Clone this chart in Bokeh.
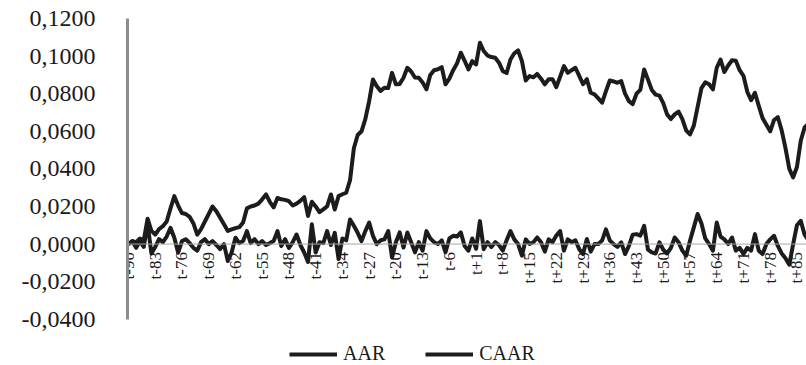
import math
from bokeh.plotting import figure
from bokeh.models import Range1d, FixedTicker, Span, Legend, LegendItem
from bokeh.core.properties import value
from bokeh.embed import file_html
from bokeh.resources import INLINE

# categories t-90 ... t0 ... t+90
categories = [f"t{d}" if d < 0 else ("t0" if d == 0 else f"t+{d}") for d in range(-90, 91)]

aar = [
    0.0000, 0.0016, -0.0020, 0.0016, -0.0015, 0.0110, -0.0050, -0.0015, 0.0026, 0.0010,
    0.0040, 0.0087, 0.0034, -0.0046, 0.0016, 0.0026, 0.0005, -0.0020, -0.0035, 0.0010,
    0.0026, 0.0000, 0.0016, -0.0005, -0.0027, 0.0000, -0.0090, -0.0045, 0.0034, 0.0005,
    0.0016, 0.0069, 0.0005, 0.0026, 0.0000, 0.0016, -0.0005, 0.0005, 0.0016, 0.0069,
    -0.0010, 0.0026, -0.0020, 0.0010, 0.0051, -0.0005, -0.0045, -0.0095, 0.0105, -0.0045,
    0.0010, 0.0005, 0.0069, -0.0005, 0.0060, -0.0080, 0.0030, 0.0020, 0.0131, 0.0097,
    0.0060, 0.0016, 0.0069, 0.0114, 0.0044, 0.0000, 0.0020, 0.0025, 0.0069, -0.0071,
    0.0010, 0.0062, -0.0018, 0.0062, 0.0010, -0.0044, 0.0010, -0.0035, 0.0069, 0.0030,
    0.0010, 0.0000, 0.0020, -0.0044, 0.0030, 0.0044, 0.0040, 0.0062, -0.0010, -0.0035,
    0.0030, -0.0025, 0.0122, -0.0027, 0.0010, -0.0015, 0.0010, -0.0005, -0.0035, 0.0020,
    0.0069, 0.0025, 0.0000, -0.0062, 0.0025, 0.0000, 0.0010, 0.0035, 0.0010, -0.0040,
    0.0025, 0.0010, 0.0045, 0.0069, -0.0035, 0.0025, 0.0010, 0.0020, -0.0027, -0.0053,
    0.0027, -0.0040, 0.0000, 0.0000, 0.0020, 0.0078, 0.0020, 0.0000, -0.0015, 0.0009,
    -0.0053, -0.0010, 0.0050, 0.0053, 0.0045, 0.0097, -0.0030, -0.0044, -0.0050, 0.0009,
    -0.0030, -0.0050, -0.0020, 0.0035, 0.0010, -0.0035, -0.0062, 0.0018, 0.0089, 0.0160,
    0.0110, 0.0030, 0.0000, -0.0035, 0.0115, 0.0040, 0.0025, 0.0000, 0.0035, -0.0035,
    -0.0020, -0.0053, -0.0020, -0.0035, 0.0053, -0.0035, -0.0053, 0.0000, 0.0025, 0.0044,
    -0.0010, -0.0050, -0.0075, -0.0110, 0.0000, 0.0100, 0.0124, 0.0050, 0.0020, -0.0010,
    0.0030,
]

caar = [
    0.0000, 0.0015, 0.0010, 0.0030, 0.0020, 0.0135, 0.0070, 0.0050, 0.0080, 0.0095,
    0.0120, 0.0190, 0.0255, 0.0205, 0.0165, 0.0160, 0.0145, 0.0110, 0.0050, 0.0080,
    0.0120, 0.0160, 0.0200, 0.0175, 0.0140, 0.0105, 0.0070, 0.0078, 0.0085, 0.0090,
    0.0115, 0.0190, 0.0200, 0.0205, 0.0215, 0.0238, 0.0264, 0.0225, 0.0195, 0.0245,
    0.0238, 0.0235, 0.0228, 0.0205, 0.0215, 0.0230, 0.0250, 0.0150, 0.0225, 0.0200,
    0.0170, 0.0185, 0.0200, 0.0264, 0.0184, 0.0255, 0.0265, 0.0273, 0.0340, 0.0510,
    0.0580, 0.0600, 0.0665, 0.0760, 0.0876, 0.0840, 0.0815, 0.0832, 0.0830, 0.0911,
    0.0850, 0.0852, 0.0885, 0.0938, 0.0918, 0.0886, 0.0885, 0.0860, 0.0823, 0.0900,
    0.0925, 0.0930, 0.0941, 0.0850, 0.0880, 0.0925, 0.0960, 0.1018, 0.0975, 0.0929,
    0.0973, 0.0956, 0.1071, 0.1027, 0.1003, 0.0995, 0.0991, 0.0965, 0.0920, 0.0910,
    0.0982, 0.1015, 0.1030, 0.0973, 0.0870, 0.0894, 0.0887, 0.0905, 0.0880, 0.0850,
    0.0877, 0.0877, 0.0835, 0.0890, 0.0947, 0.0911, 0.0925, 0.0938, 0.0895, 0.0850,
    0.0877, 0.0805, 0.0796, 0.0775, 0.0752, 0.0814, 0.0870, 0.0865, 0.0858, 0.0867,
    0.0800, 0.0760, 0.0745, 0.0800, 0.0820, 0.0929, 0.0875, 0.0820, 0.0795, 0.0790,
    0.0750, 0.0690, 0.0665, 0.0690, 0.0705, 0.0665, 0.0605, 0.0583, 0.0630, 0.0730,
    0.0830, 0.0860, 0.0850, 0.0823, 0.0938, 0.0982, 0.0915, 0.0950, 0.0978, 0.0975,
    0.0925, 0.0895, 0.0810, 0.0765, 0.0805, 0.0735, 0.0670, 0.0635, 0.0600, 0.0660,
    0.0675, 0.0605, 0.0510, 0.0400, 0.0355, 0.0410, 0.0550, 0.0620, 0.0640, 0.0600,
    0.0580,
]

y_ticks = [-0.04, -0.02, 0.0, 0.02, 0.04, 0.06, 0.08, 0.10, 0.12]
y_tick_labels = ["-0,0400", "-0,0200", "0,0000", "0,0200", "0,0400",
                 "0,0600", "0,0800", "0,1000", "0,1200"]

x_tick_step = 7
x_tick_idx = list(range(0, len(categories), x_tick_step))
x_tick_labels = [categories[i] for i in x_tick_idx]

idx = list(range(len(categories)))

FONT = "Liberation Serif"
INK = "#1c1c1c"

# frame runs to the bottom edge so the legend can sit inside it; the y axis
# line is limited to the tick range with bounds
p = figure(width=806, height=365, output_backend="svg", toolbar_location=None,
           x_range=Range1d(-0.26, 177.5), y_range=Range1d(-0.0646, 0.12),
           x_axis_location=None, min_border_left=127, min_border_right=0,
           min_border_top=18, min_border_bottom=0)
p.outline_line_color = None
p.xgrid.visible = False
p.ygrid.visible = False

ya = p.yaxis[0]
ya.ticker = FixedTicker(ticks=y_ticks)
ya.bounds = (y_ticks[0], y_ticks[-1])
ya.major_label_overrides = {t: l for t, l in zip(y_ticks, y_tick_labels)}
ya.axis_line_color = "#8c8c8c"
ya.axis_line_width = 3
ya.major_tick_line_color = None
ya.minor_tick_line_color = None
ya.major_label_standoff = 26
ya.major_label_text_font = FONT
ya.major_label_text_font_size = "24px"
ya.major_label_text_color = "#1a1a1a"

p.add_layout(Span(location=0, dimension="width", line_color="#a6a6a6", line_width=1))

r_aar = p.line(idx, aar, line_color=INK, line_width=4, line_join="round")
r_caar = p.line(idx, caar, line_color=INK, line_width=4, line_join="round")

p.text(x=x_tick_idx, y=[0] * len(x_tick_idx), text=x_tick_labels, angle=math.pi / 2,
       text_align="right", text_baseline="middle", y_offset=8,
       text_font=value(FONT), text_font_size="17px", text_color="#1a1a1a")

legend = Legend(items=[LegendItem(label="AAR", renderers=[r_aar]),
                       LegendItem(label="CAAR", renderers=[r_caar])],
                orientation="horizontal", location=(162, 0),
                glyph_width=48, glyph_height=14, label_standoff=6, spacing=40,
                label_text_font=FONT, label_text_font_size="20px",
                label_text_color="#1a1a1a", border_line_color=None,
                background_fill_alpha=0, padding=0, margin=0)
p.add_layout(legend)

open("out.html", "w").write(file_html(p, INLINE))
